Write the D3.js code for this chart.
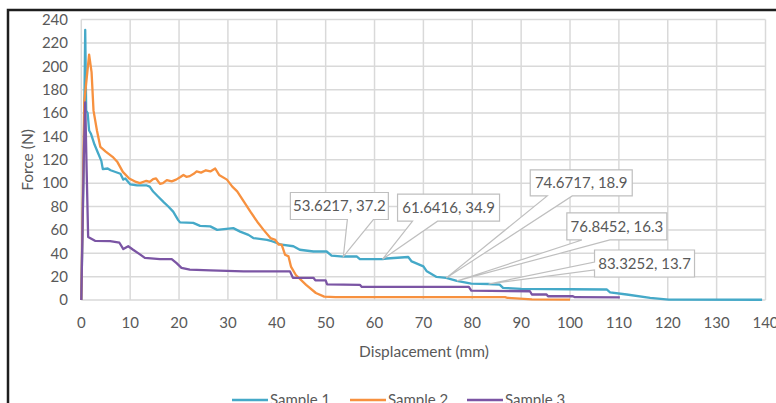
<!DOCTYPE html>
<html>
<head>
<meta charset="utf-8">
<script src="https://cdn.jsdelivr.net/npm/d3@7"></script>
<style>
  body { margin: 0; background: #fff; overflow: hidden; }
  text { font-family: Lato, "Open Sans", sans-serif; fill: #595959; }
</style>
</head>
<body>
<script>
// Force vs displacement readings, [displacement mm, force N].
const sample1 = [[0,0],[0.5,120],[0.8,231],[1.0,162],[1.3,160],[1.6,145],[2.0,142],[2.7,133],[3.4,126],[4.1,119],[4.4,112],[5.4,112.5],[6.0,111],[7.0,109.5],[8.0,108],[8.6,103],[9.0,104],[10,99],[11.4,98],[13.4,98],[14.0,97],[14.7,92.8],[15.7,88.6],[16.8,84],[17.8,80],[18.8,75.6],[19.8,68.6],[20.2,66.4],[22.9,66],[24.3,63.4],[26.4,63],[27.8,60],[31.1,61.5],[32.5,58.5],[34.2,55.7],[35.2,53],[38,51.5],[39,50.3],[41,47.3],[43.4,46],[44.7,43],[47.5,41.5],[50.2,41.5],[51.2,38],[53.6217,37.2],[56.4,37.2],[57,35],[61.6416,34.9],[62.5,35.5],[66.9,36.8],[67.6,33],[70,28.8],[70.7,24.5],[72.7,19.7],[74.6717,18.9],[76.8452,16.3],[79.8,14],[83.3252,13.7],[85.6,13.2],[86.3,10.4],[90,9.5],[100,9.2],[107.5,9],[108.2,6.6],[111.6,4.7],[116.4,1.9],[120.2,0.4],[139.3,0.2]];
const sample2 = [[0,0],[0.6,169],[1.6,210],[2.1,195],[2.5,162],[3.2,145],[3.9,131],[5,127],[6.4,122.5],[7.4,118],[8.5,109.6],[9.8,104],[11.2,101],[12,100],[13.3,102],[14,101],[14.7,103.5],[15.3,104],[16.1,99.4],[16.7,100],[17.5,102.6],[18.5,101.5],[19.4,103],[20.2,105],[20.9,107],[21.5,105.4],[22.2,106],[23,108],[23.6,110],[24.5,109],[25.5,111],[26.4,110],[27.4,112.5],[28.2,107],[29.8,103],[30.9,97],[31.9,93],[33.3,84],[34.6,75.6],[36,67],[37.3,60],[38.7,53],[39.7,51.5],[40.4,47.3],[41,47.3],[41.7,38.7],[42.4,37.3],[42.9,28.6],[43.9,21.4],[46,12.9],[48,6],[49.7,2.9],[52,2.5],[86.7,2.5],[87.2,1.9],[92.2,0.5],[100,0.3]];
const sample3 = [[0,0],[0.5,120],[0.8,169],[1.1,110],[1.4,54],[2.8,50.6],[5.9,50.3],[7.8,49],[8.6,43.6],[9.6,46],[10.6,43],[12,39],[13,36],[16.1,35],[18.5,35],[19.5,31.5],[20.5,27.5],[22.2,26],[26.4,25.4],[33.2,24.5],[42.7,24.5],[43.3,19],[47.5,19],[47.9,16.8],[50,16.8],[50.3,13.3],[57,13],[57.4,11.2],[79.3,11.2],[79.8,8],[91.8,7.5],[92.2,4.7],[95.2,4.7],[95.5,3.2],[100.6,3.2],[101,2.4],[110.2,2.2]];

const seriesNames = ['Sample 1', 'Sample 2', 'Sample 3'];
const seriesColors = ['#45a9c8', '#f7913f', '#7b55a4'];

const xTicks = [0, 10, 20, 30, 40, 50, 60, 70, 80, 90, 100, 110, 120, 130, 140];
const yTicks = [0, 20, 40, 60, 80, 100, 120, 140, 160, 180, 200, 220, 240];

// Labelled points (callouts), all on Sample 1.
const calloutPoints = [[53.6217, 37.2], [61.6416, 34.9], [74.6717, 18.9], [76.8452, 16.3], [83.3252, 13.7]];
// Callout box placement relative to its point: dx, dy, width, height, wedge side, wedge start/end.
const calloutLayout = [
    {dx: -53, dy: -64, w: 98, h: 27, side: 'bottom', a: 57, b: 83},
    {dx: 15, dy: -65, w: 102, h: 27, side: 'bottom', a: 15, b: 40},
    {dx: 84, dy: -108, w: 102, h: 26, side: 'bottom', a: 17, b: 42},
    {dx: 110, dy: -68, w: 100, h: 27, side: 'bottom', a: 15, b: 43},
    {dx: 106, dy: -34, w: 100, h: 27, side: 'left', a: 12, b: 20},
];

const width = 776;
const height = 403;
const margin = {top: 19.5, right: 10.5, bottom: 103, left: 81.3};

const svg = d3.select('body').append('svg')
    .attr('width', width)
    .attr('height', height);

const x = d3.scaleLinear()
    .domain([0, 140])
    .range([margin.left, width - margin.right]);

const y = d3.scaleLinear()
    .domain([0, 240])
    .range([height - margin.bottom, margin.top]);

// frame (only top and left edges are in view)
svg.append('path')
    .attr('d', `M8,${height} V10 H${width}`)
    .attr('fill', 'none')
    .attr('stroke', '#1e1e1e')
    .attr('stroke-width', 2.5);

// gridlines
svg.append('g')
    .selectAll('line')
    .data(xTicks)
    .join('line')
    .attr('x1', d => x(d)).attr('x2', d => x(d))
    .attr('y1', y(0)).attr('y2', y(240))
    .attr('stroke', '#d9d9d9')
    .attr('stroke-width', 1.5);

svg.append('g')
    .selectAll('line')
    .data(yTicks)
    .join('line')
    .attr('x1', x(0)).attr('x2', x(140))
    .attr('y1', d => y(d)).attr('y2', d => y(d))
    .attr('stroke', '#d9d9d9')
    .attr('stroke-width', 1.5);

// tick labels
svg.append('g')
    .selectAll('text')
    .data(yTicks)
    .join('text')
    .attr('x', 68)
    .attr('y', d => y(d))
    .attr('dy', '0.35em')
    .attr('text-anchor', 'end')
    .attr('font-size', 15)
    .text(d => d);

svg.append('g')
    .selectAll('text')
    .data(xTicks)
    .join('text')
    .attr('x', d => x(d))
    .attr('y', 323)
    .attr('dy', '0.35em')
    .attr('text-anchor', 'middle')
    .attr('font-size', 15)
    .text(d => d);

// axis titles
svg.append('text')
    .attr('x', 424)
    .attr('y', 352)
    .attr('dy', '0.35em')
    .attr('text-anchor', 'middle')
    .attr('font-size', 15.5)
    .text('Displacement (mm)');

svg.append('text')
    .attr('transform', 'translate(28,160) rotate(-90)')
    .attr('dy', '0.35em')
    .attr('text-anchor', 'middle')
    .attr('font-size', 15.5)
    .text('Force (N)');

// lines
const line = d3.line()
    .x(d => x(d[0]))
    .y(d => y(d[1]));

svg.append('g')
    .selectAll('path')
    .data([sample1, sample2, sample3])
    .join('path')
    .attr('d', line)
    .attr('fill', 'none')
    .attr('stroke', (d, i) => seriesColors[i])
    .attr('stroke-width', 2.3)
    .attr('stroke-linejoin', 'round');

// callouts
const callouts = svg.append('g')
    .selectAll('g')
    .data(calloutPoints)
    .join('g');

callouts.append('path')
    .attr('d', (d, i) => {
        const c = calloutLayout[i];
        const px = x(d[0]), py = y(d[1]);
        const x0 = px + c.dx, y0 = py + c.dy, x1 = x0 + c.w, y1 = y0 + c.h;
        if (c.side === 'left') {
            return `M${x0},${y0} H${x1} V${y1} H${x0} V${y0 + c.b} L${px},${py} L${x0},${y0 + c.a} Z`;
        }
        return `M${x0},${y0} H${x1} V${y1} H${x0 + c.b} L${px},${py} L${x0 + c.a},${y1} H${x0} Z`;
    })
    .attr('fill', '#fff')
    .attr('stroke', '#bfbfbf')
    .attr('stroke-width', 1.2);

callouts.append('text')
    .attr('x', (d, i) => x(d[0]) + calloutLayout[i].dx + calloutLayout[i].w / 2)
    .attr('y', (d, i) => y(d[1]) + calloutLayout[i].dy + calloutLayout[i].h / 2)
    .attr('dy', '0.36em')
    .attr('text-anchor', 'middle')
    .attr('font-size', 15)
    .text(d => `${d[0]}, ${d[1]}`);

// legend (cut by the bottom edge)
const legendX = [232, 350, 467];
const legend = svg.append('g')
    .selectAll('g')
    .data(seriesNames)
    .join('g')
    .attr('transform', (d, i) => `translate(${legendX[i]},400)`);

legend.append('line')
    .attr('x1', 0).attr('x2', 36)
    .attr('stroke', (d, i) => seriesColors[i])
    .attr('stroke-width', 2.5);

legend.append('text')
    .attr('x', 38)
    .attr('dy', '0.35em')
    .attr('font-size', 15)
    .text(d => d);
</script>
</body>
</html>
